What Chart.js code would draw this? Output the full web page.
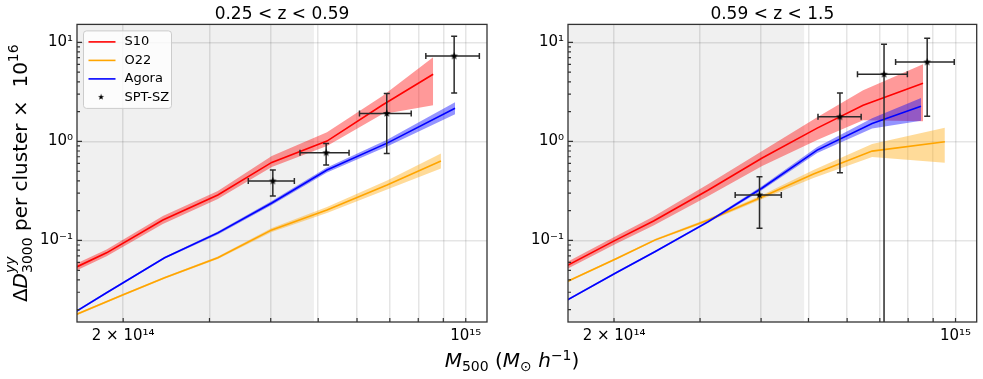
<!DOCTYPE html>
<html>
<head>
<meta charset="utf-8">
<script src="https://cdn.jsdelivr.net/npm/chart.js@4.4.1/dist/chart.umd.min.js"></script>
<style>
  html, body { margin: 0; padding: 0; background: #fff; }
  #wrap { position: relative; width: 983px; height: 379px; }
  #c1 { position: absolute; left: 0; top: 0; }
  #c2 { position: absolute; left: 490px; top: 0; }
  #xlabel { position: absolute; left: 262px; width: 500px; top: 350px; text-align: center;
            font-family: 'DejaVu Sans'; font-size: 20px; line-height: 20px; color: #000; white-space: nowrap; }
  #xlabel sub, #xlabel sup { font-size: 14px; line-height: 0; }
  #xlabel sub { vertical-align: -3.5px; }
  #xlabel sup { vertical-align: 7.5px; }
</style>
</head>
<body>
<div id="wrap">
  <canvas id="c1" width="490" height="379"></canvas>
  <canvas id="c2" width="493" height="379"></canvas>
  <div id="xlabel"><i>M</i><sub>500</sub> (<i>M</i><sub>⊙</sub> <i>h</i><sup>−1</sup>)</div>
</div>
<script>
// ---- data (mass in M_sun/h, signal x 1e16) ----
const seriesNames = ['S10', 'O22', 'Agora', 'SPT-SZ'];

// panel 1: 0.25 < z < 0.59
const loS10M   = [1.6e14, 1.85e14, 2.41e14, 3.12e14, 4.02e14, 5.21e14, 6.75e14, 8.58e14];
const loS10    = [0.0535, 0.075, 0.161, 0.288, 0.614, 1.007, 2.32, 4.76];
const loS10Hi  = [0.058, 0.0813, 0.177, 0.316, 0.711, 1.24, 2.86, 7.06];
const loS10Lo  = [0.0494, 0.0692, 0.147, 0.262, 0.551, 0.897, 1.88, 2.32];

const loO22M   = [1.6e14, 2.0e14, 2.43e14, 3.12e14, 4.02e14, 5.21e14, 6.91e14, 8.9e14];
const loO22    = [0.0178, 0.0283, 0.042, 0.0668, 0.1279, 0.2033, 0.363, 0.633];
const loO22Hi  = [0.0182, 0.029, 0.043, 0.0687, 0.134, 0.218, 0.403, 0.753];
const loO22Lo  = [0.0174, 0.0277, 0.041, 0.065, 0.1221, 0.1897, 0.327, 0.532];

const loAgoraM  = [1.6e14, 1.85e14, 2.43e14, 3.12e14, 4.02e14, 5.21e14, 6.91e14, 9.51e14];
const loAgora   = [0.0191, 0.0297, 0.0668, 0.1193, 0.239, 0.514, 0.961, 2.16];
const loAgoraHi = [0.01955, 0.0304, 0.0684, 0.1235, 0.2504, 0.5447, 1.042, 2.482];
const loAgoraLo = [0.01866, 0.029, 0.0653, 0.1152, 0.2282, 0.485, 0.886, 1.88];

const loSptM   = [4.04e14, 5.19e14, 6.9e14, 9.47e14];
const loSptMLo = [3.6e14, 4.59e14, 6.07e14, 8.29e14];
const loSptMHi = [4.47e14, 5.78e14, 7.74e14, 1.066e15];
const loSpt    = [0.398, 0.768, 1.914, 7.28];
const loSptLo  = [0.281, 0.577, 0.757, 3.09];
const loSptHi  = [0.514, 0.955, 3.04, 11.5];

// panel 2: 0.59 < z < 1.5
const hiS10M   = [1.6e14, 2.02e14, 2.41e14, 3.12e14, 4.02e14, 5.21e14, 6.47e14, 8.58e14];
const hiS10    = [0.0555, 0.1014, 0.1575, 0.323, 0.679, 1.361, 2.32, 3.86];
const hiS10Hi  = [0.0602, 0.1112, 0.1749, 0.3715, 0.799, 1.757, 3.29, 6.0];
const hiS10Lo  = [0.0512, 0.0924, 0.142, 0.2812, 0.564, 1.031, 1.639, 1.601];

const hiO22M   = [1.6e14, 2.02e14, 2.43e14, 3.12e14, 4.02e14, 5.12e14, 6.75e14, 9.51e14];
const hiO22    = [0.0383, 0.0653, 0.1014, 0.1612, 0.2749, 0.4686, 0.7985, 0.991];
const hiO22Hi  = [0.0392, 0.0668, 0.1038, 0.167, 0.288, 0.514, 0.939, 1.377];
const hiO22Lo  = [0.0374, 0.0638, 0.0991, 0.1557, 0.262, 0.427, 0.695, 0.609];

const hiAgoraM  = [1.6e14, 2.02e14, 2.43e14, 3.12e14, 4.02e14, 5.21e14, 6.75e14, 8.5e14];
const hiAgora   = [0.0249, 0.0472, 0.0773, 0.155, 0.3386, 0.8173, 1.518, 2.267];
const hiAgoraHi = [0.0255, 0.0483, 0.0791, 0.1587, 0.355, 0.876, 1.716, 2.748];
const hiAgoraLo = [0.0243, 0.0461, 0.0755, 0.1514, 0.323, 0.762, 1.352, 1.612];

const hiSptM   = [3.97e14, 5.8e14, 7.14e14, 8.75e14];
const hiSptMLo = [3.54e14, 5.23e14, 6.3e14, 7.54e14];
const hiSptMHi = [4.4e14, 6.41e14, 7.97e14, 9.94e14];
const hiSpt    = [0.288, 1.769, 4.76, 6.33];
const hiSptLo  = [0.133, 0.483, 0.001, 1.798];
const hiSptHi  = [0.44, 3.09, 9.55, 10.97];

// axes
const xMin = 1.61e14, xMax = 1.105e15;
const yMin = 0.01503, yMax = 15.18;
const shadeEnd = 4.9e14;
const xTicks = [2e14, 3e14, 4e14, 5e14, 6e14, 7e14, 8e14, 9e14, 1e15];
const xTickLabels = ['2 × 10¹⁴', '', '', '', '', '', '', '', '10¹⁵'];
const yTicks = [0.02, 0.03, 0.04, 0.05, 0.06, 0.07, 0.08, 0.09, 0.1,
                0.2, 0.3, 0.4, 0.5, 0.6, 0.7, 0.8, 0.9, 1,
                2, 3, 4, 5, 6, 7, 8, 9, 10];
const yMajor = [0.1, 1, 10];
const yMajorLabels = ['10⁻¹', '10⁰', '10¹'];

const colors = { S10: '#ff0000', O22: '#ffa500', Agora: '#0000ff' };
const bandColors = { S10: 'rgba(255,0,0,0.4)', O22: 'rgba(255,165,0,0.4)', Agora: 'rgba(0,0,255,0.42)' };

Chart.defaults.font.family = "'DejaVu Sans'";
Chart.defaults.color = '#000';

function pts(xs, ys) { return xs.map((x, i) => ({ x: x, y: ys[i] })); }

function starImage(r) {
  const s = 9;
  const c = document.createElement('canvas');
  c.width = s; c.height = s;
  const g = c.getContext('2d');
  g.translate(s / 2, s / 2);
  g.beginPath();
  for (let i = 0; i < 10; i++) {
    const rr = i % 2 ? r * 0.42 : r;
    const a = -Math.PI / 2 + i * Math.PI / 5;
    g.lineTo(rr * Math.cos(a), rr * Math.sin(a));
  }
  g.closePath();
  g.fillStyle = '#000';
  g.fill();
  return c;
}
const star = starImage(4);

function model(name, xs, mid, hi, lo, order) {
  return [
    { label: name + ' hi', data: pts(xs, hi), borderColor: 'transparent', borderWidth: 0, pointRadius: 0, fill: false, order: order + 0.5 },
    { label: name + ' lo', data: pts(xs, lo), borderColor: 'transparent', borderWidth: 0, pointRadius: 0, fill: '-1', backgroundColor: bandColors[name], order: order + 0.5 },
    { label: name, data: pts(xs, mid), borderColor: colors[name], borderWidth: 1.6, pointRadius: 0, fill: false, order: order }
  ];
}

function spt(xs, xlo, xhi, ys, ylo, yhi) {
  return {
    label: 'SPT-SZ', data: pts(xs, ys), showLine: false, pointStyle: star, pointRadius: 3, order: 0,
    xErr: [xlo, xhi], yErr: [ylo, yhi]
  };
}

// grey region, drawn under the grid
const shade = {
  id: 'shade',
  beforeDraw(chart) {
    const { ctx, chartArea: a, scales: { x } } = chart;
    ctx.save();
    ctx.fillStyle = '#f0f0f0';
    const xe = x.getPixelForValue(shadeEnd);
    ctx.fillRect(a.left, a.top, xe - a.left, a.bottom - a.top);
    ctx.restore();
  }
};

// error bars, drawn just before the star markers
const errorBars = {
  id: 'errorBars',
  beforeDatasetDraw(chart, args) {
    const ds = chart.data.datasets[args.index];
    if (!ds.xErr) return;
    const { ctx, chartArea: a, scales: { x, y } } = chart;
    ctx.save();
    ctx.beginPath();
    ctx.rect(a.left, a.top, a.right - a.left, a.bottom - a.top);
    ctx.clip();
    ctx.strokeStyle = '#2a2a2a';
    ctx.lineWidth = 1.5;
    ds.data.forEach((p, i) => {
      const px = x.getPixelForValue(p.x), py = y.getPixelForValue(p.y);
      const x0 = x.getPixelForValue(ds.xErr[0][i]), x1 = x.getPixelForValue(ds.xErr[1][i]);
      const y0 = y.getPixelForValue(ds.yErr[0][i]), y1 = y.getPixelForValue(ds.yErr[1][i]);
      ctx.beginPath();
      ctx.moveTo(x0, py); ctx.lineTo(x1, py);
      ctx.moveTo(px, y0); ctx.lineTo(px, y1);
      ctx.moveTo(x0, py - 3); ctx.lineTo(x0, py + 3);
      ctx.moveTo(x1, py - 3); ctx.lineTo(x1, py + 3);
      ctx.moveTo(px - 3, y0); ctx.lineTo(px + 3, y0);
      ctx.moveTo(px - 3, y1); ctx.lineTo(px + 3, y1);
      ctx.stroke();
    });
    ctx.restore();
  }
};

// axes box and inward tick marks
const frame = {
  id: 'frame',
  afterDraw(chart) {
    const { ctx, chartArea: a, scales: { x, y } } = chart;
    ctx.save();
    ctx.strokeStyle = '#333';
    ctx.lineWidth = 1.2;
    ctx.beginPath();
    x.ticks.forEach(t => {
      const px = x.getPixelForValue(t.value);
      ctx.moveTo(px, a.bottom); ctx.lineTo(px, a.bottom - 4);
    });
    y.ticks.forEach(t => {
      const py = y.getPixelForValue(t.value);
      const len = yMajor.includes(t.value) ? 5 : 3;
      ctx.moveTo(a.left, py); ctx.lineTo(a.left + len, py);
    });
    ctx.stroke();
    ctx.lineWidth = 1.3;
    ctx.strokeRect(a.left, a.top, a.right - a.left, a.bottom - a.top);
    ctx.restore();
  }
};

// matplotlib-like legend box in the first panel
const legendBox = {
  id: 'legendBox',
  afterDraw(chart) {
    const { ctx, chartArea: a } = chart;
    const x0 = a.left + 6.5, y0 = a.top + 6.5, w = 88, h = 77.5;
    ctx.save();
    ctx.beginPath();
    if (ctx.roundRect) ctx.roundRect(x0, y0, w, h, 3); else ctx.rect(x0, y0, w, h);
    ctx.fillStyle = 'rgba(255,255,255,0.8)';
    ctx.fill();
    ctx.strokeStyle = '#cccccc';
    ctx.lineWidth = 1;
    ctx.stroke();
    ctx.font = "13px 'DejaVu Sans'";
    ctx.textBaseline = 'middle';
    seriesNames.forEach((name, i) => {
      const yy = y0 + 11 + i * 18.5;
      if (colors[name]) {
        ctx.strokeStyle = colors[name];
        ctx.lineWidth = 1.6;
        ctx.beginPath(); ctx.moveTo(x0 + 5, yy); ctx.lineTo(x0 + 32, yy); ctx.stroke();
      } else {
        ctx.drawImage(star, x0 + 18.5 - star.width / 2, yy - star.height / 2 + 0.5, star.width * 0.8, star.height * 0.8);
      }
      ctx.fillStyle = '#000';
      ctx.fillText(name, x0 + 41, yy);
    });
    ctx.restore();
  }
};

// y axis title with sub/superscripts
const yTitle = {
  id: 'yTitle',
  afterDraw(chart) {
    const { ctx, chartArea: a } = chart;
    const big = "20px 'DejaVu Sans'", bigI = "italic 20px 'DejaVu Sans'";
    const sm = "14px 'DejaVu Sans'", smI = "italic 14px 'DejaVu Sans'";
    const parts = [
      { t: 'Δ', f: big, dy: 0 },
      { t: 'D', f: bigI, dy: 0 },
      { stack: [{ t: 'yy', f: smI, dy: -12 }, { t: '3000', f: sm, dy: 5 }] },
      { t: ' per cluster ×  10', f: big, dy: 0 },
      { t: '16', f: sm, dy: -9 }
    ];
    ctx.save();
    const widthOf = p => { ctx.font = p.f; return ctx.measureText(p.t).width; };
    let total = 0;
    parts.forEach(p => { total += p.stack ? Math.max(...p.stack.map(widthOf)) : widthOf(p); });
    ctx.translate(27, (a.top + a.bottom) / 2);
    ctx.rotate(-Math.PI / 2);
    ctx.fillStyle = '#000';
    ctx.textBaseline = 'alphabetic';
    let cx = -total / 2;
    parts.forEach(p => {
      if (p.stack) {
        let wmax = 0;
        p.stack.forEach(s => { ctx.font = s.f; ctx.fillText(s.t, cx, s.dy); wmax = Math.max(wmax, ctx.measureText(s.t).width); });
        cx += wmax;
      } else {
        ctx.font = p.f;
        ctx.fillText(p.t, cx, p.dy);
        cx += ctx.measureText(p.t).width;
      }
    });
    ctx.restore();
  }
};

function makeChart(id, title, yWidth, padRight, datasets, extra) {
  return new Chart(document.getElementById(id), {
    type: 'line',
    data: { datasets: datasets },
    options: {
      responsive: false,
      animation: false,
      devicePixelRatio: 1,
      layout: { padding: { left: 0, right: padRight, top: 0, bottom: 0 }, autoPadding: false },
      plugins: {
        legend: { display: false },
        tooltip: { enabled: false },
        title: { display: true, text: title, fullSize: false, color: '#000',
                 font: { size: 17, weight: 'normal' }, padding: { top: 4, bottom: 0 } }
      },
      scales: {
        x: {
          type: 'logarithmic', min: xMin, max: xMax,
          afterBuildTicks: s => { s.ticks = xTicks.map(v => ({ value: v })); },
          afterFit: s => { s.height = 57; },
          ticks: { autoSkip: false, maxRotation: 0, minRotation: 0, padding: 5, font: { size: 15 }, color: '#000',
                   callback: v => xTickLabels[xTicks.indexOf(v)] || '' },
          grid: { color: 'rgba(0,0,0,0.1)', lineWidth: 1.5, drawTicks: false },
          border: { display: false }
        },
        y: {
          type: 'logarithmic', min: yMin, max: yMax,
          afterBuildTicks: s => { s.ticks = yTicks.map(v => ({ value: v })); },
          afterFit: s => { s.width = yWidth; },
          ticks: { autoSkip: false, padding: 4, font: { size: 15 }, color: '#000',
                   callback: v => { const k = yMajor.indexOf(v); return k >= 0 ? yMajorLabels[k] : ''; } },
          grid: { color: c => (c.tick && yMajor.includes(c.tick.value)) ? 'rgba(0,0,0,0.1)' : 'rgba(0,0,0,0)',
                  lineWidth: 1.5, drawTicks: false },
          border: { display: false }
        }
      }
    },
    plugins: [shade, errorBars, frame].concat(extra)
  });
}

makeChart('c1', '0.25 < z < 0.59', 77, 3, [
  ...model('S10', loS10M, loS10, loS10Hi, loS10Lo, 3),
  ...model('O22', loO22M, loO22, loO22Hi, loO22Lo, 2),
  ...model('Agora', loAgoraM, loAgora, loAgoraHi, loAgoraLo, 1),
  spt(loSptM, loSptMLo, loSptMHi, loSpt, loSptLo, loSptHi)
], [legendBox, yTitle]);

makeChart('c2', '0.59 < z < 1.5', 78, 6.3, [
  ...model('S10', hiS10M, hiS10, hiS10Hi, hiS10Lo, 3),
  ...model('O22', hiO22M, hiO22, hiO22Hi, hiO22Lo, 2),
  ...model('Agora', hiAgoraM, hiAgora, hiAgoraHi, hiAgoraLo, 1),
  spt(hiSptM, hiSptMLo, hiSptMHi, hiSpt, hiSptLo, hiSptHi)
], []);
</script>
</body>
</html>
